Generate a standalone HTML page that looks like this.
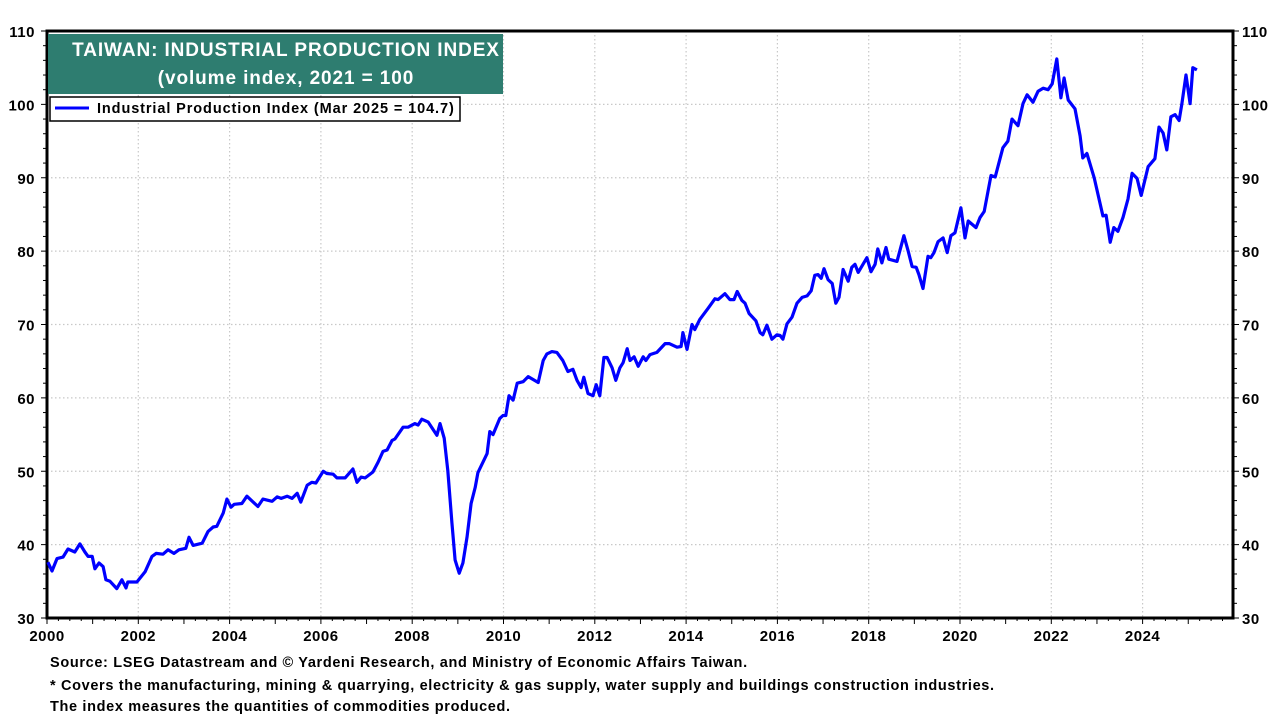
<!DOCTYPE html>
<html><head><meta charset="utf-8">
<style>
html,body{margin:0;padding:0;background:#fff;}
body{width:1280px;height:720px;overflow:hidden;font-family:"Liberation Sans",Arial,sans-serif;}
</style></head>
<body>
<svg id="chart" width="1280" height="720" xmlns="http://www.w3.org/2000/svg" font-family="Liberation Sans, Arial, sans-serif">
<g id="grid"></g>
<g id="axes"></g>
<g id="series"></g>
<rect x="48" y="34" width="455" height="60" fill="#2E7D70"/>
<text x="286" y="56" text-anchor="middle" fill="#fff" font-size="19" font-weight="bold" letter-spacing="0.9">TAIWAN: INDUSTRIAL PRODUCTION INDEX</text>
<text x="286" y="84" text-anchor="middle" fill="#fff" font-size="19" font-weight="bold" letter-spacing="0.9">(volume index, 2021 = 100</text>
<g>
<rect x="50" y="97" width="410" height="24" fill="#fff" stroke="#000" stroke-width="1.5"/>
<line x1="55" y1="108" x2="89" y2="108" stroke="#0000ff" stroke-width="3"/>
<text x="97" y="113" font-size="14.5" font-weight="bold" letter-spacing="0.9">Industrial Production Index (Mar 2025 = 104.7)</text>
</g>
<g font-size="14.5" font-weight="bold" letter-spacing="0.65">
<text x="50" y="667">Source: LSEG Datastream and © Yardeni Research, and Ministry of Economic Affairs Taiwan.</text>
<text x="50" y="690">* Covers the manufacturing, mining &amp; quarrying, electricity &amp; gas supply, water supply and buildings construction industries.</text>
<text x="50" y="711">The index measures the quantities of commodities produced.</text>
</g>
</svg>
<script>
const yTicks=[30,40,50,60,70,80,90,100,110];
const xTickYears=[2000,2002,2004,2006,2008,2010,2012,2014,2016,2018,2020,2022,2024];
const dates=[0.02,0.11,0.22,0.35,0.46,0.61,0.72,0.83,0.90,0.99,1.05,1.14,1.23,1.29,1.38,1.53,1.64,1.73,1.77,1.97,2.15,2.30,2.39,2.54,2.65,2.78,2.89,3.04,3.11,3.20,3.40,3.53,3.64,3.72,3.86,3.94,4.03,4.10,4.27,4.38,4.62,4.73,4.93,5.04,5.13,5.26,5.37,5.48,5.56,5.70,5.80,5.89,6.05,6.13,6.27,6.35,6.53,6.70,6.79,6.88,6.97,7.14,7.25,7.36,7.45,7.56,7.62,7.80,7.91,8.06,8.13,8.21,8.35,8.54,8.61,8.70,8.78,8.87,8.94,9.03,9.11,9.20,9.29,9.38,9.44,9.64,9.70,9.77,9.92,9.99,10.05,10.12,10.21,10.30,10.43,10.54,10.76,10.87,10.95,11.06,11.17,11.30,11.41,11.52,11.61,11.70,11.76,11.85,11.96,12.03,12.11,12.20,12.27,12.38,12.46,12.55,12.62,12.71,12.77,12.86,12.95,13.06,13.12,13.21,13.36,13.54,13.63,13.80,13.89,13.93,14.02,14.13,14.19,14.30,14.48,14.63,14.70,14.85,14.96,15.05,15.12,15.22,15.29,15.38,15.53,15.62,15.68,15.77,15.88,15.99,16.06,16.12,16.21,16.32,16.43,16.54,16.65,16.74,16.82,16.89,16.96,17.02,17.11,17.20,17.28,17.35,17.44,17.55,17.63,17.70,17.77,17.96,18.05,18.14,18.20,18.29,18.38,18.44,18.62,18.77,18.86,18.95,19.04,19.10,19.19,19.30,19.36,19.43,19.52,19.63,19.72,19.80,19.89,20.02,20.11,20.18,20.35,20.44,20.53,20.68,20.77,20.94,21.05,21.14,21.27,21.38,21.47,21.60,21.71,21.82,21.93,22.02,22.12,22.21,22.28,22.37,22.52,22.63,22.69,22.78,22.94,23.13,23.20,23.29,23.37,23.46,23.57,23.68,23.77,23.88,23.97,24.12,24.27,24.36,24.45,24.53,24.62,24.71,24.80,24.86,24.95,25.04,25.10,25.19];
const values=[37.6,36.4,38.1,38.3,39.4,39.0,40.1,39.0,38.4,38.4,36.7,37.5,37.0,35.2,35.0,34.0,35.2,34.1,34.9,34.9,36.3,38.4,38.8,38.7,39.3,38.8,39.3,39.5,41.0,39.9,40.2,41.8,42.4,42.5,44.3,46.2,45.1,45.5,45.6,46.6,45.2,46.2,45.9,46.5,46.3,46.6,46.3,47.0,45.8,48.1,48.5,48.4,50.0,49.7,49.6,49.1,49.1,50.3,48.5,49.2,49.1,49.9,51.2,52.7,52.9,54.2,54.4,56.0,56.0,56.5,56.3,57.1,56.7,54.9,56.5,54.5,50.1,43.0,37.9,36.1,37.5,41.0,45.6,47.8,49.8,52.4,55.4,55.0,57.2,57.6,57.6,60.3,59.7,62.0,62.2,62.9,62.1,65.1,66.0,66.3,66.2,65.1,63.6,63.9,62.4,61.4,62.8,60.6,60.3,61.8,60.3,65.5,65.5,64.1,62.4,64.1,64.8,66.7,65.1,65.6,64.3,65.6,65.1,65.9,66.2,67.4,67.4,66.9,67.0,68.9,66.6,70.0,69.3,70.7,72.2,73.5,73.4,74.2,73.4,73.4,74.5,73.3,72.9,71.5,70.5,68.9,68.6,69.9,68.0,68.6,68.5,68.0,70.1,71.0,72.9,73.7,73.9,74.6,76.7,76.8,76.3,77.6,76.1,75.6,72.9,73.7,77.5,75.9,77.8,78.2,77.1,79.1,77.2,78.2,80.3,78.4,80.5,78.9,78.6,82.1,80.1,77.9,77.8,76.8,74.9,79.3,79.1,79.8,81.3,81.8,79.8,82.1,82.5,85.9,81.8,84.1,83.2,84.6,85.4,90.3,90.1,94.1,95.0,98.0,97.1,100.1,101.3,100.3,101.8,102.2,102.0,102.8,106.2,100.9,103.6,100.6,99.4,95.7,92.7,93.3,90.0,84.8,84.9,81.2,83.2,82.7,84.6,87.1,90.6,89.9,87.6,91.5,92.6,96.9,96.1,93.8,98.3,98.6,97.8,100.1,104.0,100.1,105.0,104.7];

const NS='http://www.w3.org/2000/svg';
const L=47,R=1233,T=31,B=618;
const X0=2000, PXYR=45.65;
const xs=t=>L+(t-X0)*PXYR;
const ys=v=>B-(v-30)*(B-T)/80;
function mk(tag,attrs,parent){const e=document.createElementNS(NS,tag);for(const k in attrs)e.setAttribute(k,attrs[k]);parent.appendChild(e);return e;}
const grid=document.getElementById('grid'),axes=document.getElementById('axes'),series=document.getElementById('series');

yTicks.forEach(v=>{
  const y=ys(v);
  if(v>30&&v<110){const g=mk('line',{x1:L,x2:R,y1:y,y2:y,stroke:'#c8c8c8','stroke-width':1.2,'stroke-dasharray':'1.5 2.5'},grid);
  
  }
  const tl=mk('text',{x:L-12,y:y+6,'text-anchor':'end','font-size':15,'font-weight':'bold','letter-spacing':0.5},axes);tl.textContent=v;
  
  
  const tr=mk('text',{x:R+9,y:y+6,'text-anchor':'start','font-size':15,'font-weight':'bold','letter-spacing':0.5},axes);tr.textContent=v;
  
  
});
for(let v=30;v<=110;v+=2){
  const y=ys(v),len=(v%10===0)?6:4;
  mk('line',{x1:L-len,x2:L,y1:y,y2:y,stroke:'#000','stroke-width':1},axes);
  mk('line',{x1:R,x2:R+len,y1:y,y2:y,stroke:'#000','stroke-width':1},axes);
}
xTickYears.forEach(yr=>{
  const x=xs(yr);
  if(yr>2000){const g=mk('line',{x1:x,x2:x,y1:T,y2:B,stroke:'#c8c8c8','stroke-width':1.2,'stroke-dasharray':'1.5 2.5'},grid);
  
  }
  const t=mk('text',{x:x,y:641,'text-anchor':'middle','font-size':15,'font-weight':'bold','letter-spacing':0.5},axes);t.textContent=yr;
  
  
});
for(let q=0;q*0.25<=25.9;q++){
  const x=xs(2000+q*0.25);if(x>R)break;
  const len=(q%4===0)?6:3;
  mk('line',{x1:x,x2:x,y1:B,y2:B+len,stroke:'#000','stroke-width':1},axes);
}
const frame=mk('rect',{x:L,y:T,width:R-L,height:B-T,fill:'none',stroke:'#000','stroke-width':3},axes);



const d=dates.map((t,i)=>(i?'L':'M')+xs(2000+t).toFixed(1)+','+ys(values[i]).toFixed(1)).join('');
const line=mk('path',{d:d,fill:'none',stroke:'#0000ff','stroke-width':3.2,'stroke-linejoin':'round'},series);


</script>
</body></html>
